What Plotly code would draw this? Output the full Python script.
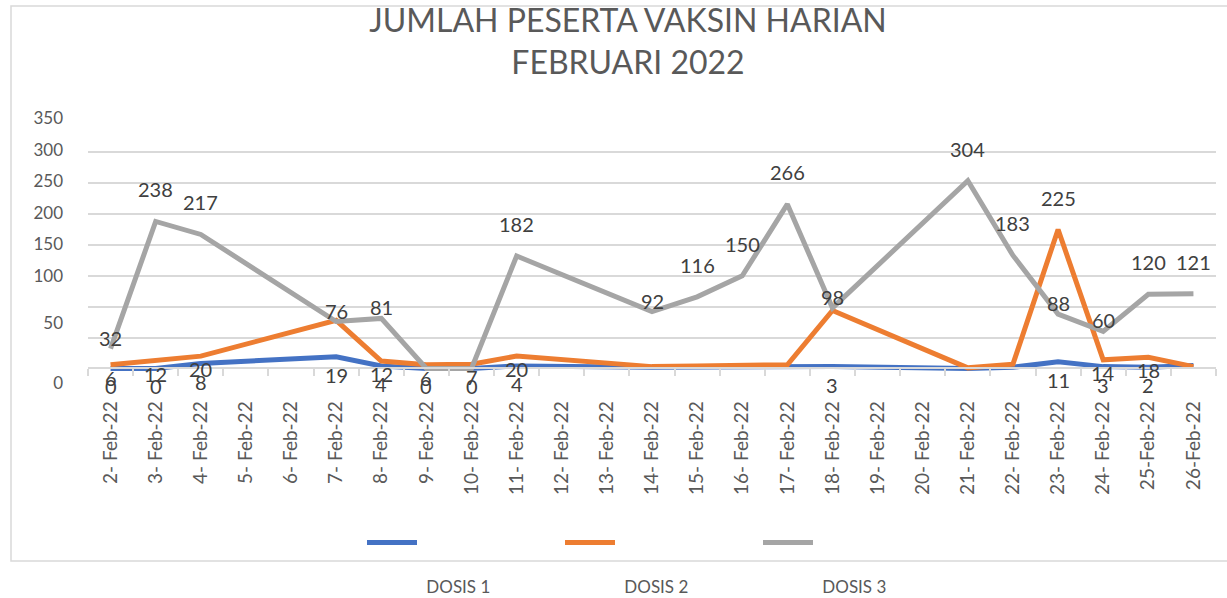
import plotly.graph_objects as go

# ---------------- data ----------------
dates = ["2- Feb-22", "3- Feb-22", "4- Feb-22", "5- Feb-22", "6- Feb-22", "7- Feb-22",
         "8- Feb-22", "9- Feb-22", "10- Feb-22", "11- Feb-22", "12- Feb-22", "13- Feb-22",
         "14- Feb-22", "15- Feb-22", "16- Feb-22", "17- Feb-22", "18- Feb-22", "19- Feb-22",
         "20- Feb-22", "21- Feb-22", "22- Feb-22", "23- Feb-22", "24- Feb-22", "25-Feb-22",
         "26-Feb-22"]

dosis1 = [0, 0, 8, None, None, 19, 4, 0, 0, 4, None, None, 2, 2, 2, 2, 3, None, None,
          0, 2, 11, 3, 2, 5]
dosis2 = [6, 12, 20, None, None, 78, 12, 6, 7, 20, None, None, 3, 4, 5, 6, 94, None, None,
          1, 7, 225, 14, 18, 3]
dosis3 = [32, 238, 217, None, None, 76, 81, 0, 0, 182, None, None, 92, 116, 150, 266, 98,
          None, None, 304, 183, 88, 60, 120, 121]

series_names = ["DOSIS 1", "DOSIS 2", "DOSIS 3"]

# which data labels are visible in the picture ("a" above, "b" below, "" none)
label1 = ["b", "b", "b", "", "", "b", "b", "b", "b", "b", "", "", "", "", "", "", "b", "", "",
          "", "", "b", "b", "b", ""]
label2 = ["b", "b", "b", "", "", "", "b", "b", "b", "b", "", "", "", "", "", "", "", "", "",
          "", "", "a", "b", "b", ""]
label3 = ["a", "a", "a", "", "", "a", "a", "", "", "a", "", "", "a", "a", "a", "a", "a", "", "",
          "a", "a", "a", "a", "a", "a"]

y_tick_text = ["0", "50", "100", "150", "200", "250", "300", "350"]
y_tick_pos = [-24, 73, 149, 201, 251, 303, 353, 405]   # where the labels sit in the picture
grid_vals = [0, 50, 100, 150, 200, 250, 300, 350]

# ---------------- style ----------------
colors = ["#4472C4", "#ED7D31", "#A5A5A5"]
FONT = "Lato"
TXT = "#595959"
LBL = "#404040"
GRID = "#D9D9D9"

fig = go.Figure()
nbsp = "\u00a0"
for name, vals, col in zip(series_names, [dosis1, dosis2, dosis3], colors):
    fig.add_trace(go.Scatter(
        x=dates, y=vals, mode="lines", connectgaps=True,
        line=dict(color=col, width=5),
        name=nbsp + "<br>" + nbsp + "<br>" + nbsp + name,
        hoverinfo="skip",
    ))

annotations = []
for vals, labs in [(dosis1, label1), (dosis2, label2), (dosis3, label3)]:
    for d, v, pos in zip(dates, vals, labs):
        if v is None or pos == "":
            continue
        if pos == "a":
            shift = 32 if v >= 100 else 11
        else:
            shift = -18 if vals is dosis1 else -13
        annotations.append(dict(
            x=d, y=v, xref="x", yref="y", text=str(v), showarrow=False,
            yshift=shift, yanchor="middle", xanchor="center",
            font=dict(family=FONT, size=20, color=LBL),
        ))

fig.update_layout(
    width=1227, height=598,
    margin=dict(l=88, r=11, t=114, b=211),
    paper_bgcolor="white", plot_bgcolor="white",
    font=dict(family=FONT, color=TXT),
    title=dict(
        text="JUMLAH PESERTA VAKSIN HARIAN<br>FEBRUARI 2022",
        x=628 / 1227, xref="container", xanchor="center",
        y=1 - 32 / 598, yref="container", yanchor="top",
        font=dict(family=FONT, size=32, color=TXT),
    ),
    showlegend=True,
    legend=dict(
        orientation="h", xref="container", yref="container",
        x=362 / 1227, y=1 - 525 / 598, xanchor="left", yanchor="top",
        entrywidth=133, entrywidthmode="pixels", itemwidth=50,
        valign="top", traceorder="normal",
        font=dict(family=FONT, size=17, color=TXT),
        bgcolor="rgba(0,0,0,0)",
    ),
    annotations=annotations,
    shapes=[dict(
        type="rect", xref="paper", yref="paper",
        x0=(11 - 88) / 1128, x1=(1232 - 88) / 1128,
        y0=(387 - 561) / 273, y1=(387 - 6) / 273,
        line=dict(color=GRID, width=1.5), fillcolor="rgba(0,0,0,0)", layer="below",
    )],
)

fig.update_xaxes(
    type="category", categoryorder="array", categoryarray=dates,
    range=[-0.5, len(dates) - 0.5],
    anchor="free", position=(387 - 368) / 273,
    showline=True, linecolor=GRID, linewidth=1.5,
    tickson="boundaries", ticks="outside", ticklen=7, tickcolor=GRID, tickwidth=1.5,
    tickangle=-90, ticklabelstandoff=25,
    tickfont=dict(family=FONT, size=19, color=TXT),
    showgrid=False, zeroline=False, fixedrange=True,
)

fig.update_yaxes(
    range=[-30, 412],
    tickmode="array", tickvals=y_tick_pos, ticktext=y_tick_text,
    ticks="", showgrid=False, zeroline=False, showline=False,
    ticklabelstandoff=24,
    tickfont=dict(family=FONT, size=17, color=TXT),
    minor=dict(tickvals=grid_vals, showgrid=True, gridcolor=GRID, gridwidth=1.5, ticks=""),
    fixedrange=True,
)

fig.write_html("out.html", config={"displayModeBar": False},
               post_script="document.body.style.margin='0';")
